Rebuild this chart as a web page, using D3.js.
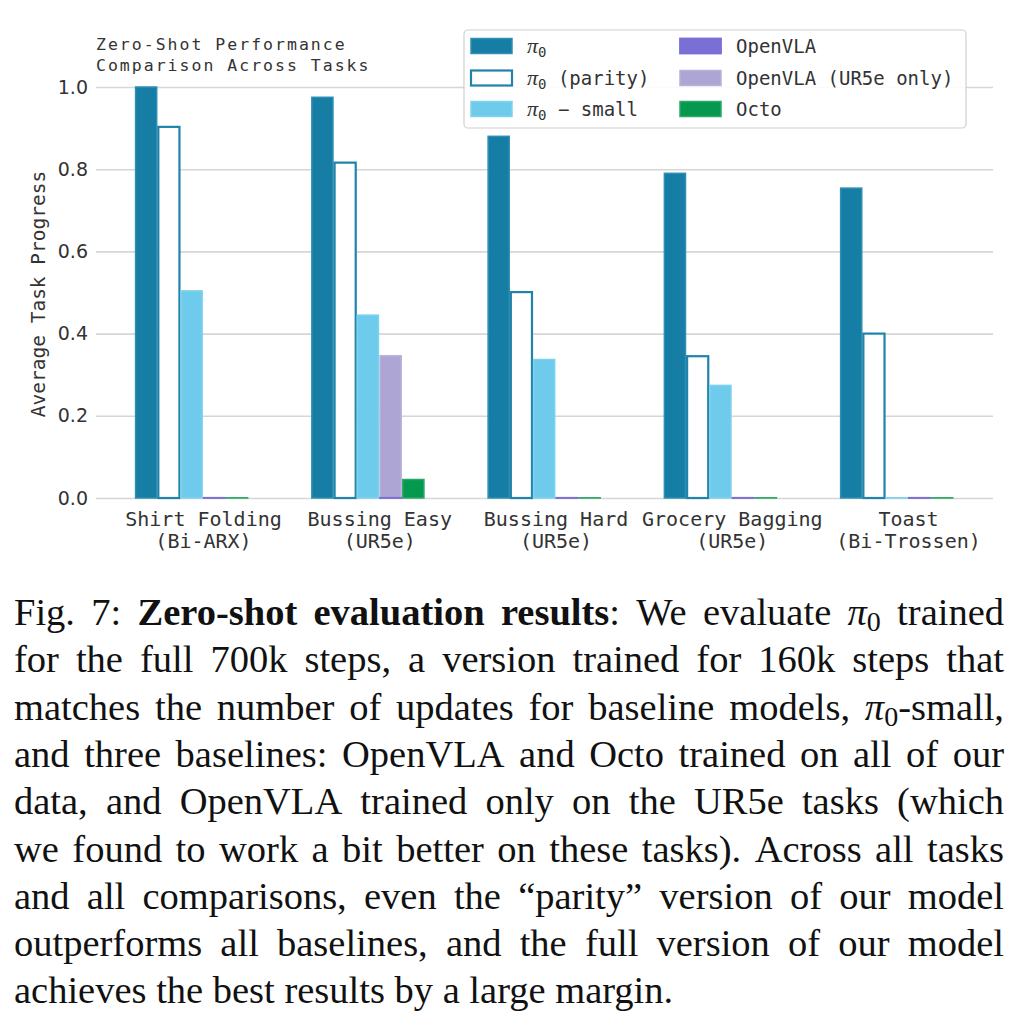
<!DOCTYPE html>
<html>
<head>
<meta charset="utf-8">
<script src="https://cdn.jsdelivr.net/npm/d3@7"></script>
<style>
  body { margin: 0; background: #fff; }
  svg { display: block; }
  .mono { font-family: "DejaVu Sans Mono", "Liberation Mono", monospace; fill: #333; }
  .ytick text { font-family: "DejaVu Sans", sans-serif; font-size: 19px; fill: #333; }
  .caption { font-family: "Liberation Serif", "Times New Roman", serif; font-size: 38.5px; fill: #111; }
</style>
</head>
<body>
<svg id="fig" width="1024" height="1018"></svg>
<script>
// ---- data ----
const taskNames = ["Shirt Folding", "Bussing Easy", "Bussing Hard", "Grocery Bagging", "Toast"];
const taskRobots = ["(Bi-ARX)", "(UR5e)", "(UR5e)", "(UR5e)", "(Bi-Trossen)"];

const seriesNames = ["π0", "π0 (parity)", "π0 − small", "OpenVLA", "OpenVLA (UR5e only)", "Octo"];
const pi0 = [1.0, 0.975, 0.88, 0.79, 0.754];
const pi0Parity = [0.903, 0.816, 0.501, 0.345, 0.40];
const pi0Small = [0.504, 0.445, 0.337, 0.274, 0.0];
const openVLA = [0.0, 0.0, 0.0, 0.0, 0.0];
const openVLAUR5e = [null, 0.346, 0.0, 0.0, null];
const octo = [0.0, 0.045, 0.0, 0.0, 0.0];

const yTicks = [0.0, 0.2, 0.4, 0.6, 0.8, 1.0];

const captionLines = [
  "Fig. 7: *Zero-shot* *evaluation* *results*: We evaluate π0 trained",
  "for the full 700k steps, a version trained for 160k steps that",
  "matches the number of updates for baseline models, π0-small,",
  "and three baselines: OpenVLA and Octo trained on all of our",
  "data, and OpenVLA trained only on the UR5e tasks (which",
  "we found to work a bit better on these tasks). Across all tasks",
  "and all comparisons, even the “parity” version of our model",
  "outperforms all baselines, and the full version of our model",
  "achieves the best results by a large margin."
];

// ---- layout ----
const svg = d3.select("#fig");
const plotL = 96, plotR = 993, plotT = 87, plotB = 498;
const slot = 0.129;          // one bar slot, in group units
const nSlots = 6;

const x = d3.scaleLinear().domain([-0.607, 4.482]).range([plotL, plotR]);
const y = d3.scaleLinear().domain([0, 1]).range([plotB, plotT]);

const series = [
  { name: seriesNames[4], values: openVLAUR5e, slot: 3, fill: "#ada6d5", stroke: "#b8b1dc", sw: 1.5 },
  { name: seriesNames[0], values: pi0, slot: 0, fill: "#167da4", stroke: "#2f8fb3", sw: 1.5 },
  { name: seriesNames[1], values: pi0Parity, slot: 1, fill: "#ffffff", stroke: "#1f83aa", sw: 2.2 },
  { name: seriesNames[2], values: pi0Small, slot: 2, fill: "#6ecbec", stroke: "#7fd2ef", sw: 1.5 },
  { name: seriesNames[3], values: openVLA, slot: 3, fill: "#7a6fd5", stroke: "#7a6fd5", sw: 1.8 },
  { name: seriesNames[5], values: octo, slot: 4, fill: "#04994f", stroke: "#2aa866", sw: 1.5 }
];

// gridlines + y tick labels
const yAxis = svg.append("g")
  .attr("class", "ytick")
  .attr("transform", `translate(${plotL},0)`)
  .call(d3.axisLeft(y).tickValues(yTicks).tickFormat(d3.format(".1f"))
    .tickSize(-(plotR - plotL)).tickPadding(8));
yAxis.select(".domain").remove();
yAxis.selectAll("line").attr("stroke", "#d6d6d6").attr("stroke-width", 1.6);

// bars (zero values still show as a thin edge line)
const barW = slot * (x(1) - x(0));
series.forEach(s => {
  svg.append("g").selectAll("rect")
    .data(s.values.map((v, i) => ({ v, i })).filter(d => d.v !== null))
    .join("rect")
    .attr("x", d => x(d.i + (s.slot - nSlots / 2) * slot) + 0.8)
    .attr("width", barW - 1.6)
    .attr("y", d => Math.min(y(d.v), y(0) - 0.2))
    .attr("height", d => Math.max(y(0) - y(d.v), 0.2))
    .attr("fill", s.fill)
    .attr("stroke", s.stroke)
    .attr("stroke-width", s.sw);
});

// x tick labels
const xAxis = svg.append("g")
  .attr("transform", `translate(0,${plotB})`)
  .call(d3.axisBottom(x).tickValues(d3.range(taskNames.length)).tickSize(0).tickFormat(""));
xAxis.select(".domain").remove();
xAxis.selectAll(".tick").each(function(d) {
  const t = d3.select(this).append("text")
    .attr("class", "mono")
    .attr("text-anchor", "middle")
    .style("font-size", "20px");
  t.append("tspan").attr("x", 0).attr("y", 28).text(taskNames[d]);
  t.append("tspan").attr("x", 0).attr("y", 50).text(taskRobots[d]);
});

// y label
svg.append("text")
  .attr("class", "mono")
  .attr("transform", "translate(45,294) rotate(-90)")
  .attr("text-anchor", "middle")
  .style("font-size", "19.5px")
  .text("Average Task Progress");

// title
const title = svg.append("text")
  .attr("class", "mono")
  .style("font-size", "16.5px")
  .style("letter-spacing", "2px");
title.append("tspan").attr("x", 96).attr("y", 50).text("Zero-Shot Performance");
title.append("tspan").attr("x", 96).attr("y", 71).text("Comparison Across Tasks");

// legend
function piLabel(sel, name) {
  if (name.startsWith("π0")) {
    sel.append("tspan").style("font-family", "Liberation Serif, serif")
      .style("font-style", "italic").style("font-size", "22px").text("π");
    sel.append("tspan").style("font-size", "14px").attr("dy", 4).text("0");
    sel.append("tspan").attr("dy", -4).text(name.slice(2));
  } else {
    sel.text(name);
  }
}

const legend = svg.append("g");
legend.append("rect")
  .attr("x", 464).attr("y", 30).attr("width", 502).attr("height", 98)
  .attr("rx", 4)
  .attr("fill", "#fff").attr("fill-opacity", 0.9)
  .attr("stroke", "#d0d0d0").attr("stroke-width", 1.2);

const legendOrder = [0, 1, 2, 3, 4, 5];
const legendRows = [46, 78, 109];
const styleOf = name => series.find(s => s.name === name);
legendOrder.forEach((k, j) => {
  const s = styleOf(seriesNames[k]);
  const col = Math.floor(j / 3), row = j % 3;
  const sx = col === 0 ? 471 : 680;
  const cy = legendRows[row];
  legend.append("rect")
    .attr("x", sx).attr("y", cy - 7.5).attr("width", 41).attr("height", 15)
    .attr("fill", s.fill).attr("stroke", s.stroke).attr("stroke-width", s.sw);
  const t = legend.append("text")
    .attr("class", "mono")
    .attr("x", sx + 56).attr("y", cy + 7)
    .style("font-size", "19px");
  piLabel(t, seriesNames[k]);
});

// caption, justified line by line
const capL = 14, capR = 1004, capTop = 625, lineStep = 47.3;
const cap = svg.append("g").attr("class", "caption");

function writeWord(g, word) {
  const t = g.append("text");
  let shift = 0;
  word.split(/(\*[^*]+\*|π0)/).filter(p => p !== "").forEach(p => {
    if (p.startsWith("*")) {
      t.append("tspan").attr("dy", shift || null).style("font-weight", "bold").text(p.slice(1, -1));
      shift = 0;
    } else if (p === "π0") {
      t.append("tspan").attr("dy", shift || null).style("font-style", "italic").text("π");
      t.append("tspan").attr("dy", 6).style("font-size", "28px").text("0");
      shift = -6;
    } else {
      t.append("tspan").attr("dy", shift || null).text(p);
      shift = 0;
    }
  });
  return t;
}

captionLines.forEach((line, li) => {
  const yy = capTop + li * lineStep;
  const g = cap.append("g").attr("transform", `translate(0,${yy})`);
  const words = line.split(" ").map(w => writeWord(g, w));
  const widths = words.map(t => t.node().getComputedTextLength());
  const total = d3.sum(widths);
  const last = li === captionLines.length - 1;
  const gap = last ? 9.6 : (capR - capL - total) / (words.length - 1);
  let cx = capL;
  words.forEach((t, i) => {
    t.attr("x", cx);
    cx += widths[i] + gap;
  });
});
</script>
</body>
</html>
